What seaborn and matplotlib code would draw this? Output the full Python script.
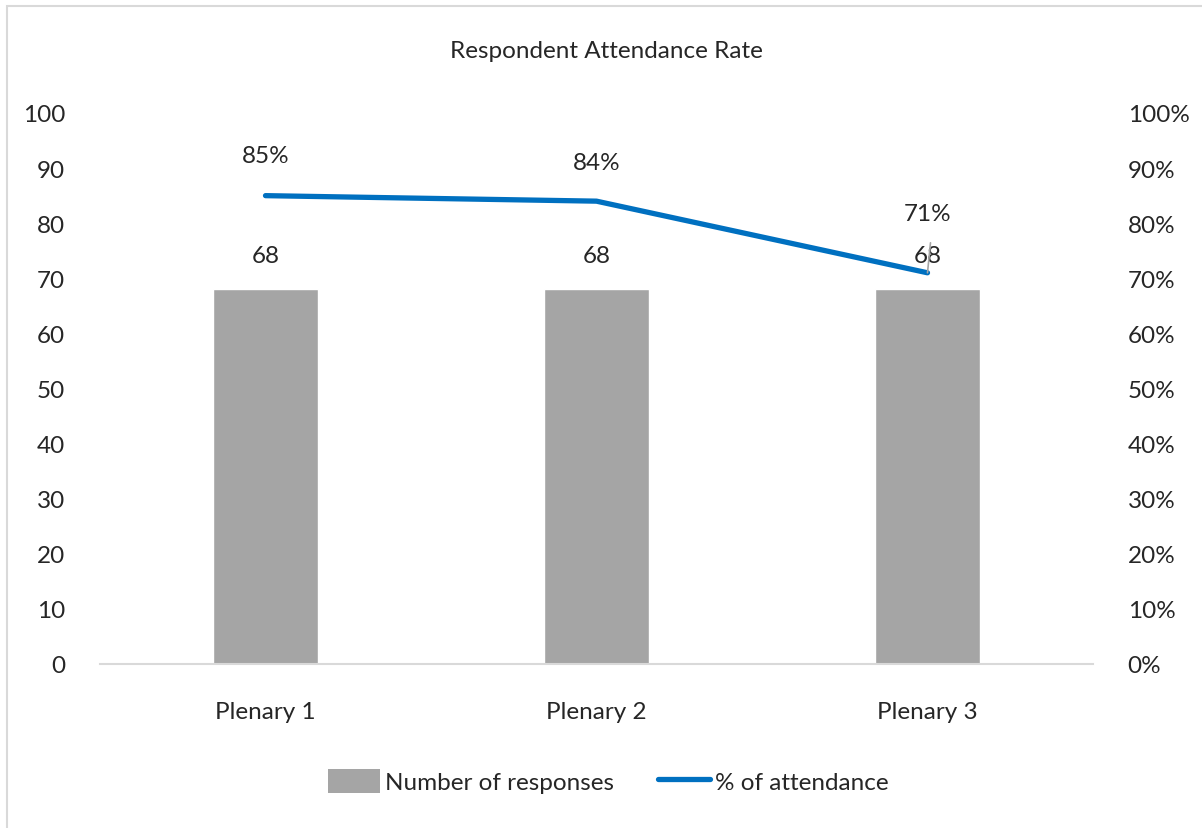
import matplotlib
matplotlib.use("Agg")
import matplotlib.pyplot as plt
from matplotlib.patches import Rectangle, Patch
from matplotlib.lines import Line2D
import seaborn as sns
import pandas as pd

sessions = ["Plenary 1", "Plenary 2", "Plenary 3"]
responses = [68, 68, 68]
attendance_pct = [85, 84, 71]

bar_color = "#A5A5A5"
line_color = "#0070C0"
text_color = "#262626"
fs = 17.5

sns.set_theme(style="white")
plt.rcParams["font.family"] = ["Lato", "DejaVu Sans"]

df = pd.DataFrame({"session": sessions, "responses": responses, "pct": attendance_pct})

W, H = 1202, 829
fig = plt.figure(figsize=(W / 100, H / 100), dpi=100)

# outer chart frame
fig.patches.append(Rectangle((7 / W, -0.05), 1.2, 1 - 7 / H + 0.05, transform=fig.transFigure,
                             fill=False, edgecolor="#D9D9D9", linewidth=1.5))

ax = fig.add_axes([100 / W, (H - 665) / H, (1093 - 100) / W, (665 - 114) / H])
sns.barplot(data=df, x="session", y="responses", color=bar_color, width=0.315,
            saturation=1, ax=ax)
ax.set_ylim(0, 100)
ax.set_xlim(-0.5, 2.5)
ax.set_yticks(range(0, 101, 10))
ax.set_xlabel("")
ax.set_ylabel("")
for s in ["top", "right", "left"]:
    ax.spines[s].set_visible(False)
ax.spines["bottom"].set_color("#D9D9D9")
ax.spines["bottom"].set_linewidth(1.5)
ax.tick_params(axis="y", length=0, pad=25, labelsize=fs, labelcolor=text_color)
ax.tick_params(axis="x", length=0, pad=27, labelsize=fs, labelcolor=text_color)
for t in ax.get_yticklabels():
    t.set_horizontalalignment("right")

ax2 = ax.twinx()
sns.lineplot(data=df, x="session", y="pct", color=line_color, linewidth=3.8,
             ax=ax2, solid_capstyle="round")
ax2.set_ylim(0, 100)
ax2.set_yticks(range(0, 101, 10))
ax2.set_yticklabels([f"{v}%" for v in range(0, 101, 10)])
ax2.set_ylabel("")
for s in ["top", "right", "left", "bottom"]:
    ax2.spines[s].set_visible(False)
ax2.tick_params(axis="y", length=0, pad=25, labelsize=fs, labelcolor=text_color)

# value labels
for i, v in enumerate(responses):
    ax.annotate(f"{v}", (i, v), xytext=(0, 34), textcoords="offset pixels",
                ha="center", va="center", fontsize=fs, color=text_color)
offsets = [40, 39, 59]
for i, v in enumerate(attendance_pct):
    ax2.annotate(f"{v}%", (i, v), xytext=(0, offsets[i]), textcoords="offset pixels",
                 ha="center", va="center", fontsize=fs, color=text_color)
# leader line from the last point to its label
ax2.annotate("", (2, attendance_pct[2]), xytext=(3, 30), textcoords="offset pixels",
             arrowprops=dict(arrowstyle="-", color="#A5A5A5", lw=1.2, shrinkA=0, shrinkB=0))

fig.text(606 / W, 1 - 51 / H, "Respondent Attendance Rate", ha="center", va="center",
         fontsize=fs, color=text_color)

handles = [Patch(facecolor=bar_color, edgecolor="none"),
           Line2D([0], [0], color=line_color, linewidth=3.8, solid_capstyle="round")]
fig.legend(handles, ["Number of responses", "% of attendance"], loc="center",
           bbox_to_anchor=(608 / W, 1 - 782 / H), ncol=2, frameon=False, fontsize=fs,
           handlelength=2.15, handleheight=1.15, handletextpad=0.2, columnspacing=1.8,
           labelcolor=text_color)

fig.savefig("out.png", dpi=100)
